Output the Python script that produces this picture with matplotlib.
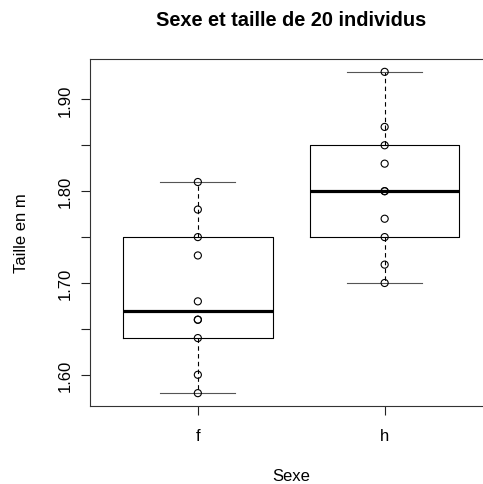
import numpy as np
import matplotlib
matplotlib.use("Agg")
import matplotlib.pyplot as plt

plt.rcParams['font.family'] = ['Liberation Sans', 'DejaVu Sans']

categories = ["f", "h"]
taille_f = [1.58, 1.60, 1.64, 1.66, 1.66, 1.68, 1.73, 1.75, 1.78, 1.81]
taille_h = [1.70, 1.72, 1.75, 1.77, 1.80, 1.80, 1.83, 1.85, 1.87, 1.93]
series = [taille_f, taille_h]
yticks = [1.60, 1.65, 1.70, 1.75, 1.80, 1.85, 1.90]
ytick_labels = ["1.60", "", "1.70", "", "1.80", "", "1.90"]
title = "Sexe et taille de 20 individus"
xlabel = "Sexe"
ylabel = "Taille en m"


def fivenum(v):
    v = np.sort(np.asarray(v, dtype=float))
    n = len(v)
    n4 = np.floor((n + 3) / 2) / 2
    d = np.array([1, n4, (n + 1) / 2, n + 1 - n4, n]) - 1
    return 0.5 * (v[np.floor(d).astype(int)] + v[np.ceil(d).astype(int)])


W, H = 483, 485
fig = plt.figure(figsize=(W / 100, H / 100), dpi=100)
left, right, top, bottom = 89.5, 493.0, 60.0, 407.0
ax = fig.add_axes([left / W, 1 - bottom / H, (right - left) / W, (bottom - top) / H])

stats = []
for name, vals in zip(categories, series):
    lo, q1, med, q3, hi = fivenum(vals)
    stats.append(dict(label=name, whislo=lo, q1=q1, med=med, q3=q3, whishi=hi, fliers=[]))

lw = 0.8
ax.bxp(stats, positions=[1, 2], widths=0.8, capwidths=0.4, showfliers=False,
       boxprops=dict(color='black', linewidth=lw),
       medianprops=dict(color='black', linewidth=2.3, solid_capstyle='butt'),
       whiskerprops=dict(color='black', linewidth=lw, linestyle=(0, (4, 3))),
       capprops=dict(color='#555555', linewidth=lw))

for i, vals in enumerate(series):
    ax.scatter(np.full(len(vals), i + 1), vals, s=26, facecolors='none',
               edgecolors='black', linewidths=0.8, zorder=5)

ax.set_xlim(0.42, 2.58)
ax.set_ylim(1.566, 1.944)
ax.set_xticks([1, 2])
ax.set_xticklabels(categories)
ax.set_yticks(yticks)
ax.set_yticklabels(ytick_labels)

for sp in ax.spines.values():
    sp.set_color('#333333')
    sp.set_linewidth(0.8)

fs = 12
ax.tick_params(axis='both', length=6.5, width=0.8, color='#222222', labelsize=fs)
ax.tick_params(axis='x', pad=9)
ax.tick_params(axis='y', pad=5.5, labelrotation=90)
for lab in ax.get_yticklabels():
    lab.set_verticalalignment('center')

ax.set_xlabel(xlabel, fontsize=fs)
ax.xaxis.set_label_coords(0.5, (bottom - 477) / (bottom - top))
ax.xaxis.label.set_verticalalignment('center')
ax.set_ylabel(ylabel, fontsize=fs)
ax.yaxis.set_label_coords((22 - left) / (right - left), 0.5)
ax.yaxis.label.set_verticalalignment('center')

ax.text(0.5, (bottom - 20) / (bottom - top), title, transform=ax.transAxes,
        ha='center', va='center', fontsize=14.4, fontweight='bold')

fig.savefig("out.png", dpi=100)
